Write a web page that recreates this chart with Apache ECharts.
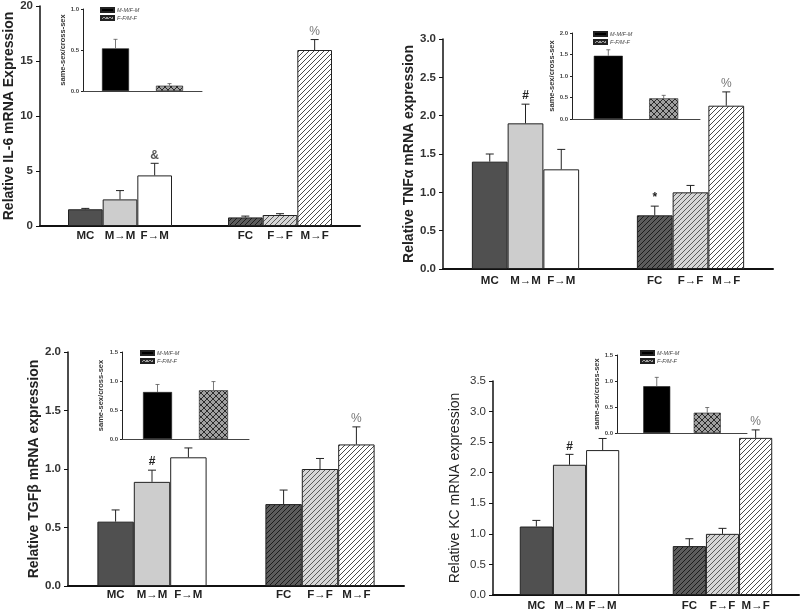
<!DOCTYPE html>
<html><head><meta charset="utf-8">
<script src="https://cdn.jsdelivr.net/npm/echarts@6/dist/echarts.min.js"></script>
<style>html,body{margin:0;padding:0;background:#fff}#c{width:800px;height:609px}</style>
</head><body><div id="c"></div>
<script>
// ---------- DATA ----------
const categories = ['MC', 'M→M', 'F→M', 'FC', 'F→F', 'M→F'];

const il6Ticks = [0, 5, 10, 15, 20];
const il6Values = [1.52, 2.42, 4.6, 0.78, 1.0, 16.0];
const il6Errors = [0.08, 0.8, 1.1, 0.12, 0.12, 0.95];
const il6Marks = ['', '', '&', '', '', '%'];

const tnfTicks = [0, 0.5, 1.0, 1.5, 2.0, 2.5, 3.0];
const tnfValues = [1.40, 1.90, 1.30, 0.70, 1.00, 2.13];
const tnfErrors = [0.10, 0.25, 0.26, 0.12, 0.09, 0.18];
const tnfMarks = ['', '#', '', '*', '', '%'];

const tgfTicks = [0, 0.5, 1.0, 1.5, 2.0];
const tgfValues = [0.55, 0.89, 1.10, 0.70, 1.00, 1.21];
const tgfErrors = [0.10, 0.10, 0.08, 0.12, 0.09, 0.15];
const tgfMarks = ['', '#', '', '', '', '%'];

const kcTicks = [0, 0.5, 1.0, 1.5, 2.0, 2.5, 3.0, 3.5];
const kcValues = [1.12, 2.13, 2.37, 0.80, 1.00, 2.57];
const kcErrors = [0.10, 0.17, 0.19, 0.12, 0.09, 0.13];
const kcMarks = ['', '#', '', '', '', '%'];

const insetNames = ['M-M/F-M', 'F-F/M-F'];
const insetTitle = 'same-sex/cross-sex';
const il6InsetTicks = [0, 0.5, 1.0];
const il6InsetValues = [0.52, 0.065];
const il6InsetErrors = [0.11, 0.025];
const tnfInsetTicks = [0, 0.5, 1.0, 1.5, 2.0];
const tnfInsetValues = [1.47, 0.48];
const tnfInsetErrors = [0.14, 0.07];
const tgfInsetTicks = [0, 0.5, 1.0, 1.5];
const tgfInsetValues = [0.81, 0.84];
const tgfInsetErrors = [0.13, 0.15];
const kcInsetTicks = [0, 0.5, 1.0, 1.5];
const kcInsetValues = [0.90, 0.39];
const kcInsetErrors = [0.17, 0.10];

// ---------- STYLE ----------
const FONT = '"Liberation Sans", Arial, sans-serif';
function hatch(bg, fg, s, cross) {
  const c = document.createElement('canvas');
  c.width = s; c.height = s;
  const x = c.getContext('2d');
  x.fillStyle = bg; x.fillRect(0, 0, s, s);
  x.strokeStyle = fg; x.lineWidth = 1;
  x.beginPath();
  x.moveTo(0, s); x.lineTo(s, 0);
  x.moveTo(-1, 1); x.lineTo(1, -1);
  x.moveTo(s - 1, s + 1); x.lineTo(s + 1, s - 1);
  if (cross) {
    x.moveTo(0, 0); x.lineTo(s, s);
    x.moveTo(-1, s - 1); x.lineTo(1, s + 1);
    x.moveTo(s - 1, -1); x.lineTo(s + 1, 1);
  }
  x.stroke();
  return { image: c, repeat: 'repeat' };
}
const fills = ['#505050', '#cdcdcd', '#ffffff',
  hatch('#5c5c5c', '#1c1c1c', 5), hatch('#d6d6d6', '#5a5a5a', 5), hatch('#ffffff', '#4a4a4a', 5)];
const insetFills = ['#000000', hatch('#a0a0a0', '#2a2a2a', 6, true)];
const markColors = { '&': '#555', '%': '#777', '#': '#222', '*': '#222' };

const panels = [
  { ticks: il6Ticks, values: il6Values, errors: il6Errors, marks: il6Marks, digits: 0,
    title: 'Relative IL-6 mRNA Expression', grid: { left: 40, top: 4, width: 320, height: 222 },
    nameGap: 22, titleWeight: 'bold', tickWeight: 'bold', labelDist: 4 },
  { ticks: tnfTicks, values: tnfValues, errors: tnfErrors, marks: tnfMarks, digits: 1,
    title: 'Relative TNF\u03b1 mRNA expression', grid: { left: 443, top: 39, width: 330, height: 230 },
    nameGap: 25, titleWeight: 'bold', tickWeight: 'bold', labelDist: 6 },
  { ticks: tgfTicks, values: tgfValues, errors: tgfErrors, marks: tgfMarks, digits: 1,
    title: 'Relative TGF\u03b2 mRNA expression', grid: { left: 68, top: 352, width: 336, height: 234 },
    nameGap: 26, titleWeight: 'bold', tickWeight: 'bold', labelDist: 3 },
  { ticks: kcTicks, values: kcValues, errors: kcErrors, marks: kcMarks, digits: 1,
    title: 'Relative KC mRNA expression', grid: { left: 493, top: 381, width: 306, height: 214 },
    nameGap: 31, titleWeight: 'normal', tickWeight: 'normal', labelDist: 5 }
];
const insets = [
  { ticks: il6InsetTicks, values: il6InsetValues, errors: il6InsetErrors,
    grid: { left: 83, top: 9, width: 119, height: 82 }, barWidth: 27, gap: 1.0, legend: { left: 100, top: 7 }, nameGap: 16 },
  { ticks: tnfInsetTicks, values: tnfInsetValues, errors: tnfInsetErrors,
    grid: { left: 572, top: 33, width: 128, height: 86 }, barWidth: 29, gap: 0.91, legend: { left: 593, top: 31 }, nameGap: 15 },
  { ticks: tgfInsetTicks, values: tgfInsetValues, errors: tgfInsetErrors,
    grid: { left: 122, top: 352, width: 127, height: 87 }, barWidth: 29, gap: 0.93, legend: { left: 140, top: 350 }, nameGap: 17 },
  { ticks: kcInsetTicks, values: kcInsetValues, errors: kcInsetErrors,
    grid: { left: 617, top: 355, width: 130, height: 78 }, barWidth: 27, gap: 0.87, legend: { left: 640, top: 350 }, nameGap: 9 }
];

const grid = [], xAxis = [], yAxis = [], series = [], legend = [];

panels.forEach((p, i) => {
  grid.push(Object.assign({ containLabel: false }, p.grid));
  xAxis.push({ type: 'category', gridIndex: i, data: ['male', 'female'],
    axisLine: { lineStyle: { color: '#111', width: 2 } }, axisTick: { show: false }, axisLabel: { show: false } });
  const step = p.ticks[1] - p.ticks[0];
  yAxis.push({ type: 'value', gridIndex: i, min: p.ticks[0], max: p.ticks[p.ticks.length - 1], interval: step,
    name: p.title, nameLocation: 'middle', nameGap: p.nameGap,
    nameTextStyle: { fontFamily: FONT, fontSize: 14, fontWeight: p.titleWeight, color: '#222' },
    axisLine: { show: true, lineStyle: { color: '#111', width: 1.5 } },
    axisTick: { show: true, length: 4, lineStyle: { color: '#111' } },
    splitLine: { show: false },
    axisLabel: { fontFamily: FONT, fontSize: 11.5, fontWeight: p.tickWeight, color: '#333', margin: 7,
      formatter: v => v.toFixed(p.digits) } });
  for (let k = 0; k < 3; k++) {
    series.push({ type: 'bar', name: 'p' + i + 's' + k, xAxisIndex: i, yAxisIndex: i,
      barGap: '0%', barCategoryGap: '35%', silent: true,
      data: [0, 1].map(g => ({ value: p.values[g * 3 + k], itemStyle: { color: fills[g * 3 + k] } })),
      itemStyle: { borderColor: '#222', borderWidth: 1 },
      label: { show: true, position: 'bottom', distance: p.labelDist, fontFamily: FONT, fontSize: 11.5,
        fontWeight: 'bold', color: '#222', formatter: q => categories[q.dataIndex * 3 + k] } });
  }
  series.push({ type: 'custom', name: 'err' + i, xAxisIndex: i, yAxisIndex: i, silent: true, z: 5,
    encode: { x: 0, y: 2 },
    data: p.values.map((v, j) => [Math.floor(j / 3), j % 3, v, p.errors[j]]),
    renderItem: (params, api) => {
      const g = api.value(0), k = api.value(1), v = api.value(2), e = api.value(3);
      const band = api.size([1, 0])[0];
      const bw = band * 0.65 / 3;
      const x = api.coord([g, 0])[0] + (k - 1) * bw;
      const y0 = api.coord([g, v])[1], y1 = api.coord([g, v + e])[1];
      const ch = [
        { type: 'line', shape: { x1: x, y1: y0, x2: x, y2: y1 }, style: { stroke: '#222', lineWidth: 1 } },
        { type: 'line', shape: { x1: x - 4, y1: y1, x2: x + 4, y2: y1 }, style: { stroke: '#222', lineWidth: 1 } }
      ];
      const m = p.marks[params.dataIndex];
      if (m) ch.push({ type: 'text', style: { text: m, x: x, y: y1 - 2, align: 'center', verticalAlign: 'bottom',
        fontFamily: FONT, fontSize: 12, fontWeight: m === '%' ? 'normal' : 'bold', fill: markColors[m] } });
      return { type: 'group', children: ch };
    } });
});

insets.forEach((s, j) => {
  const gi = 4 + j;
  grid.push(Object.assign({ containLabel: false }, s.grid));
  xAxis.push({ type: 'category', gridIndex: gi, data: ['ratio'],
    axisLine: { lineStyle: { color: '#444', width: 1 } }, axisTick: { show: false }, axisLabel: { show: false } });
  const step = s.ticks[1] - s.ticks[0];
  yAxis.push({ type: 'value', gridIndex: gi, min: s.ticks[0], max: s.ticks[s.ticks.length - 1], interval: step,
    name: insetTitle, nameLocation: 'middle', nameGap: s.nameGap,
    nameTextStyle: { fontFamily: FONT, fontSize: 7.5, fontWeight: 'bold', color: '#333' },
    axisLine: { show: true, lineStyle: { color: '#222', width: 1 } },
    axisTick: { show: true, length: 2, lineStyle: { color: '#222' } },
    splitLine: { show: false },
    axisLabel: { fontFamily: FONT, fontSize: 6, fontWeight: 'bold', color: '#444', margin: 4,
      formatter: v => v.toFixed(1) } });
  insetNames.forEach((nm, k) => {
    series.push({ type: 'bar', name: nm, xAxisIndex: gi, yAxisIndex: gi, silent: true,
      barWidth: s.barWidth, barGap: (s.gap * 100) + '%',
      itemStyle: { color: insetFills[k], borderColor: '#222', borderWidth: 0.6 },
      data: [s.values[k]] });
  });
  series.push({ type: 'custom', name: 'ierr' + j, xAxisIndex: gi, yAxisIndex: gi, silent: true, z: 5,
    encode: { x: 0, y: 2 },
    data: s.values.map((v, k) => [0, k, v, s.errors[k]]),
    renderItem: (params, api) => {
      const k = api.value(1), v = api.value(2), e = api.value(3);
      const x = api.coord([0, 0])[0] + (k - 0.5) * s.barWidth * (1 + s.gap);
      const y0 = api.coord([0, v])[1], y1 = api.coord([0, v + e])[1];
      return { type: 'group', children: [
        { type: 'line', shape: { x1: x, y1: y0, x2: x, y2: y1 }, style: { stroke: '#555', lineWidth: 0.8 } },
        { type: 'line', shape: { x1: x - 2, y1: y1, x2: x + 2, y2: y1 }, style: { stroke: '#555', lineWidth: 0.8 } }
      ] };
    } });
  legend.push({ data: insetNames, left: s.legend.left, top: s.legend.top, orient: 'vertical',
    itemWidth: 13, itemHeight: 4, itemGap: 2, padding: 0, selectedMode: false, icon: 'rect',
    textStyle: { fontFamily: FONT, fontSize: 5.5, fontStyle: 'italic', color: '#444', padding: [0, 0, 0, -2] } });
});

const chart = echarts.init(document.getElementById('c'), null, { renderer: 'canvas' });
chart.setOption({ animation: false, backgroundColor: '#ffffff', grid, xAxis, yAxis, series, legend });
</script></body></html>
